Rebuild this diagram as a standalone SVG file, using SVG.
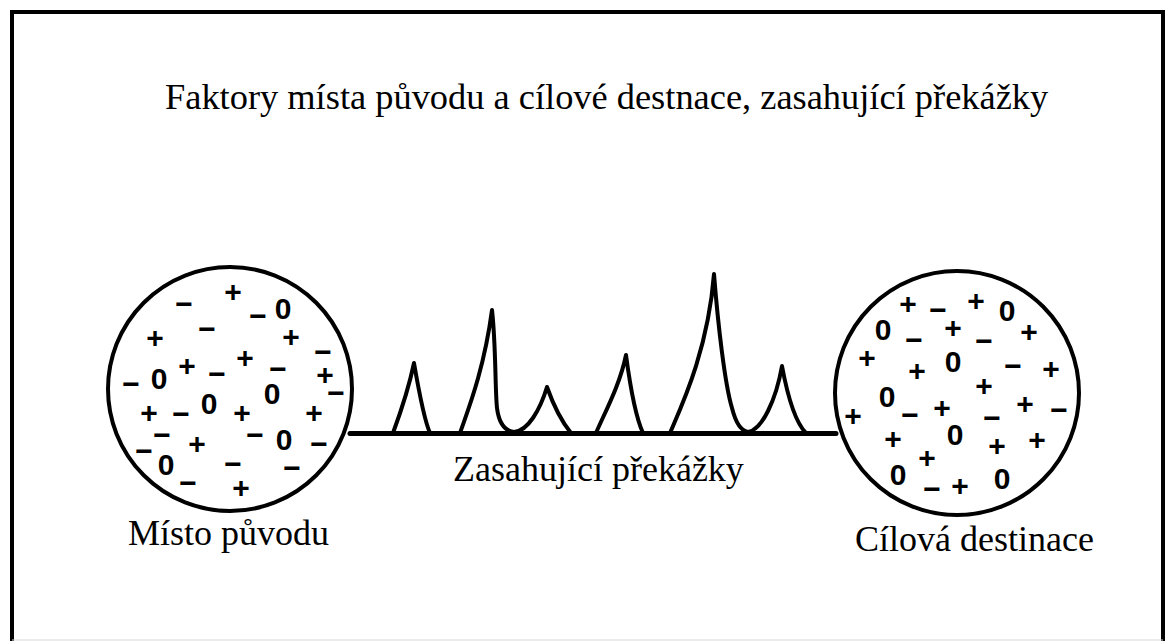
<svg xmlns="http://www.w3.org/2000/svg" width="1168" height="641" viewBox="0 0 1168 641">
<style>
  .lbl{font-family:"Liberation Serif","Times New Roman",serif;font-size:36px;fill:#000}
  .ttl{font-size:36.4px}
  .sym{font-family:"Liberation Sans",Arial,sans-serif;font-size:30px;font-weight:bold;fill:#000;text-anchor:middle}
  .ring{fill:#fff;stroke:#000;stroke-width:4}
  .conn{fill:none;stroke:#000;stroke-linejoin:round;stroke-linecap:round}
</style>
<rect width="1168" height="641" fill="#fff"/>
<g id="frame">
  <path d="M12,641 V12 H1163 V641" fill="none" stroke="#000" stroke-width="4"/>
  <line x1="12" y1="640" x2="1163" y2="640" stroke="#d8d8d8" stroke-width="1"/>
</g>
<g id="title">
  <text class="lbl ttl" x="165" y="109">Faktory místa původu a cílové destnace, zasahující překážky</text>
</g>
<g id="connectors">
  <line class="conn" x1="350" y1="433.5" x2="836" y2="433.5" stroke-width="5"/>
  <path class="conn" stroke-width="4" d="M393,433 C400,414 408,392 414,363 C419,392 424,420 430,433"/>
  <path class="conn" stroke-width="4" d="M460,433 C468,410 484,370 492,310 C496,345 495,390 497,408 C499,424 506,431 514,432 C528,431 540,410 547,387 C553,404 562,422 571,433"/>
  <path class="conn" stroke-width="4" d="M596,433 C604,414 620,385 626,355 C630,385 636,418 643,433"/>
  <path class="conn" stroke-width="4" d="M670,433 C682,405 708,350 714,274 C718,325 725,385 732,408 C736,424 742,431 748,432 C762,430 776,400 782,366 C787,393 795,422 806,433"/>
</g>
<g id="origin">
  <circle class="ring" cx="230" cy="389" r="122"/>
  <g>
    <text class="sym" x="233" y="302">+</text>
    <text class="sym" x="184" y="314">−</text>
    <text class="sym" x="258" y="326">−</text>
    <text class="sym" x="283" y="319">0</text>
    <text class="sym" x="155" y="348">+</text>
    <text class="sym" x="207" y="339">−</text>
    <text class="sym" x="291" y="347">+</text>
    <text class="sym" x="323" y="362">−</text>
    <text class="sym" x="159" y="389">0</text>
    <text class="sym" x="131" y="394">−</text>
    <text class="sym" x="187" y="376">+</text>
    <text class="sym" x="245" y="368">+</text>
    <text class="sym" x="217" y="384">−</text>
    <text class="sym" x="278" y="379">−</text>
    <text class="sym" x="325" y="385">+</text>
    <text class="sym" x="336" y="403">−</text>
    <text class="sym" x="272" y="404">0</text>
    <text class="sym" x="149" y="423">+</text>
    <text class="sym" x="181" y="424">−</text>
    <text class="sym" x="209" y="414">0</text>
    <text class="sym" x="242" y="423">+</text>
    <text class="sym" x="314" y="423">+</text>
    <text class="sym" x="162" y="445">−</text>
    <text class="sym" x="197" y="454">+</text>
    <text class="sym" x="255" y="445">−</text>
    <text class="sym" x="284" y="450">0</text>
    <text class="sym" x="319" y="454">−</text>
    <text class="sym" x="144" y="461">−</text>
    <text class="sym" x="166" y="475">0</text>
    <text class="sym" x="233" y="474">−</text>
    <text class="sym" x="292" y="478">−</text>
    <text class="sym" x="188" y="493">−</text>
    <text class="sym" x="241" y="498">+</text>
  </g>
  <text class="lbl" x="128" y="545">Místo původu</text>
</g>
<g id="destination">
  <circle class="ring" cx="957" cy="393" r="122"/>
  <g>
    <text class="sym" x="908" y="314">+</text>
    <text class="sym" x="938" y="320">−</text>
    <text class="sym" x="976" y="311">+</text>
    <text class="sym" x="1007" y="321">0</text>
    <text class="sym" x="883" y="340">0</text>
    <text class="sym" x="914" y="350">−</text>
    <text class="sym" x="953" y="338">+</text>
    <text class="sym" x="984" y="351">−</text>
    <text class="sym" x="1029" y="342">+</text>
    <text class="sym" x="867" y="368">+</text>
    <text class="sym" x="917" y="381">+</text>
    <text class="sym" x="953" y="372">0</text>
    <text class="sym" x="1013" y="376">−</text>
    <text class="sym" x="1051" y="379">+</text>
    <text class="sym" x="984" y="396">+</text>
    <text class="sym" x="887" y="407">0</text>
    <text class="sym" x="853" y="426">+</text>
    <text class="sym" x="910" y="425">−</text>
    <text class="sym" x="942" y="418">+</text>
    <text class="sym" x="992" y="428">−</text>
    <text class="sym" x="1025" y="414">+</text>
    <text class="sym" x="1059" y="420">−</text>
    <text class="sym" x="893" y="449">+</text>
    <text class="sym" x="955" y="445">0</text>
    <text class="sym" x="997" y="456">+</text>
    <text class="sym" x="1037" y="450">+</text>
    <text class="sym" x="927" y="468">+</text>
    <text class="sym" x="898" y="485">0</text>
    <text class="sym" x="932" y="499">−</text>
    <text class="sym" x="960" y="496">+</text>
    <text class="sym" x="1002" y="489">0</text>
  </g>
  <text class="lbl" x="855" y="551">Cílová destinace</text>
</g>
<g id="barriers">
  <text class="lbl" x="453" y="481">Zasahující překážky</text>
</g>
</svg>
